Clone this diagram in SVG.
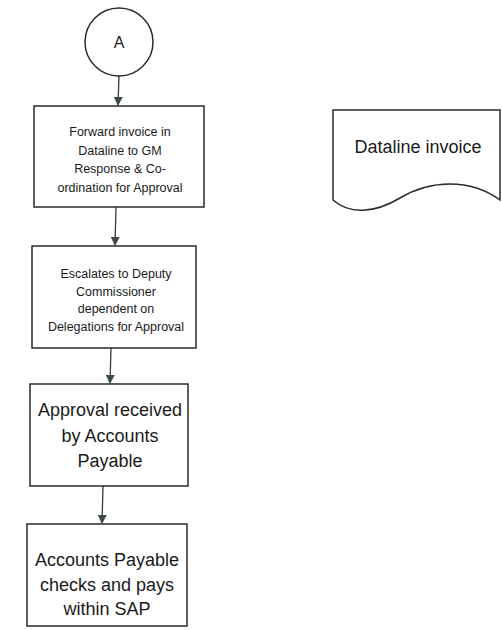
<svg xmlns="http://www.w3.org/2000/svg" width="502" height="630" viewBox="0 0 502 630">
<defs>
<style>
.shape{fill:#fff;stroke:#2a2a2a;stroke-width:1.5}
.t{font-family:"Liberation Sans",Arial,sans-serif;fill:#1a1a1a;text-anchor:middle}
.s{font-size:12.5px}
.l{font-size:18px}
.conn{stroke:#3a3a3a;stroke-width:1.3;fill:none}
</style>
<marker id="ah" viewBox="0 0 10 10" refX="9" refY="5" markerWidth="9" markerHeight="9" markerUnits="userSpaceOnUse" orient="auto">
<path d="M0,0 L10,5 L0,10 Z" fill="#3b4a44"/>
</marker>
</defs>
<rect width="502" height="630" fill="#fff"/>
<g id="connectors">
<line class="conn" x1="119" y1="76" x2="118" y2="105" marker-end="url(#ah)"/>
<line class="conn" x1="116" y1="207" x2="115" y2="245" marker-end="url(#ah)"/>
<line class="conn" x1="111" y1="348" x2="110" y2="383" marker-end="url(#ah)"/>
<line class="conn" x1="103" y1="486" x2="102" y2="523" marker-end="url(#ah)"/>
</g>
<g id="nodeA">
<circle class="shape" cx="119" cy="42" r="34"/>
<text class="t" x="119" y="48" font-size="16">A</text>
</g>
<g id="node1">
<rect class="shape" x="34" y="106" width="170" height="101"/>
<text class="t s" x="120" y="136">Forward invoice in</text>
<text class="t s" x="120" y="154.5">Dataline to GM</text>
<text class="t s" x="120" y="173">Response &amp; Co-</text>
<text class="t s" x="120" y="191.5">ordination for Approval</text>
</g>
<g id="node2">
<rect class="shape" x="32" y="246" width="164" height="102"/>
<text class="t s" x="116" y="278">Escalates to Deputy</text>
<text class="t s" x="116" y="295.5">Commissioner</text>
<text class="t s" x="116" y="313">dependent on</text>
<text class="t s" x="116" y="330.5">Delegations for Approval</text>
</g>
<g id="node3">
<rect class="shape" x="30" y="384" width="158" height="102"/>
<text class="t l" x="110" y="416">Approval received</text>
<text class="t l" x="110" y="442">by Accounts</text>
<text class="t l" x="110" y="467">Payable</text>
</g>
<g id="node4">
<rect class="shape" x="27" y="524" width="160" height="102"/>
<text class="t l" x="107" y="566">Accounts Payable</text>
<text class="t l" x="107" y="591">checks and pays</text>
<text class="t l" x="107" y="615">within SAP</text>
</g>
<g id="datalineInvoice">
<path class="shape" d="M333,110 H500 V200 C470,178 430,180 400,198 C375,213 350,215 333,200 Z"/>
<text class="t" x="418" y="153" font-size="18">Dataline invoice</text>
</g>
</svg>
